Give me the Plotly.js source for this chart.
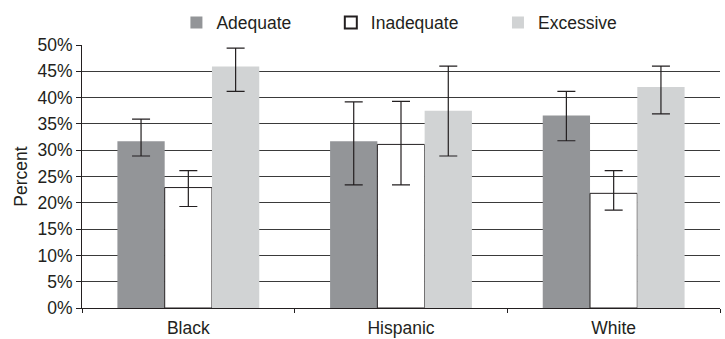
<!DOCTYPE html>
<html>
<head>
<meta charset="utf-8">
<script src="https://cdn.plot.ly/plotly-3.0.1.min.js"></script>
<style>html,body{margin:0;padding:0;background:#fff;}#chart{width:725px;height:339px;}</style>
</head>
<body>
<div id="chart"></div>
<script>
const categories = ["Black", "Hispanic", "White"];
const seriesNames = ["Adequate", "Inadequate", "Excessive"];
const adequate = [31.7, 31.7, 36.6];
const adequateHi = [35.9, 39.2, 41.2];
const adequateLo = [28.9, 23.4, 31.8];
const inadequate = [22.9, 31.1, 21.8];
const inadequateHi = [26.1, 39.3, 26.1];
const inadequateLo = [19.3, 23.4, 18.6];
const excessive = [45.9, 37.5, 42.0];
const excessiveHi = [49.4, 46.0, 46.0];
const excessiveLo = [41.2, 28.9, 36.9];
const yTicks = [0, 5, 10, 15, 20, 25, 30, 35, 40, 45, 50];

const FONT = "Liberation Sans, Arial, sans-serif";
const TXT = "#231f20";

function mk(name, vals, hi, lo, color, lineW, legendId) {
  return {
    type: "bar", name: name, x: categories, y: vals,
    marker: {color: color, line: {color: "#231f20", width: lineW}},
    error_y: {
      type: "data", symmetric: false,
      array: hi.map((h, i) => h - vals[i]),
      arrayminus: lo.map((l, i) => vals[i] - l),
      color: "#231f20", thickness: 1.2, width: 9
    },
    legend: legendId
  };
}

const data = [
  mk(seriesNames[0], adequate, adequateHi, adequateLo, "#939598", 0, "legend"),
  mk(seriesNames[1], inadequate, inadequateHi, inadequateLo, "#ffffff", 1, "legend2"),
  mk(seriesNames[2], excessive, excessiveHi, excessiveLo, "#d1d3d4", 0, "legend3")
];

function leg(x) {
  return {x: x, y: 1.085, xanchor: "left", yanchor: "middle", orientation: "h",
    font: {family: FONT, size: 17.5, color: TXT}, bgcolor: "rgba(0,0,0,0)",
    itemsizing: "constant"};
}

const layout = {
  width: 725, height: 339,
  margin: {l: 82, r: 5, t: 41, b: 31, pad: 0},
  paper_bgcolor: "#fff", plot_bgcolor: "#fff",
  font: {family: FONT, size: 17.5, color: TXT},
  barmode: "group", bargap: 0.333, bargroupgap: 0,
  showlegend: true,
  legend: leg(0.148),
  legend2: leg(0.39),
  legend3: leg(0.652),
  xaxis: {
    type: "category", tickson: "boundaries", ticks: "outside", ticklen: 4,
    tickcolor: "#231f20", showline: true, linecolor: "#231f20", linewidth: 1,
    showgrid: false, tickfont: {family: FONT, size: 17.5, color: TXT},
    ticklabelstandoff: 4, fixedrange: true
  },
  yaxis: {
    range: [0, 50], tickvals: yTicks, ticktext: yTicks.map(v => v + "%"),
    ticks: "outside", ticklen: 5, tickcolor: "#231f20",
    showline: true, linecolor: "#231f20", linewidth: 1,
    showgrid: true, gridcolor: "#3a3a3a", gridwidth: 1, zeroline: false,
    tickfont: {family: FONT, size: 17.5, color: TXT},
    title: {text: "Percent", font: {family: FONT, size: 17.5, color: TXT}, standoff: 5},
    automargin: false, fixedrange: true
  }
};

Plotly.newPlot("chart", data, layout, {displayModeBar: false, staticPlot: true});
</script>
</body>
</html>
